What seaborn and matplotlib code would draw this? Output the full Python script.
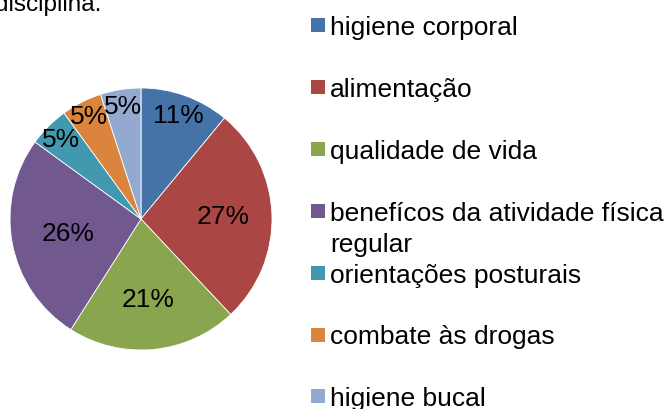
import numpy as np
import matplotlib
matplotlib.use("Agg")
import matplotlib.pyplot as plt
from matplotlib.patches import Rectangle
import seaborn as sns

categories = ["higiene corporal", "alimentação", "qualidade de vida",
              "benefícos da atividade física\nregular", "orientações posturais",
              "combate às drogas", "higiene bucal"]
values = [11, 27, 21, 26, 5, 5, 5]
colors = ["#4572A7", "#AA4643", "#89A54E", "#71588F", "#4198AF", "#DB843D", "#93A9CF"]

sns.set_style("white")
plt.rcParams["font.family"] = ["Liberation Sans", "DejaVu Sans"]
plt.rcParams["text.color"] = "black"

W, H = 670, 410
fig = plt.figure(figsize=(W / 100, H / 100), dpi=100)

# pie axes: centre (141, 220) px, radius 131 px
cx, cy, r = 141, 220, 131
ax = fig.add_axes([(cx - r) / W, (H - cy - r) / H, 2 * r / W, 2 * r / H])
pal = sns.color_palette(colors)
wedges, texts, autotexts = ax.pie(
    values, colors=pal, startangle=90, counterclock=False,
    autopct=lambda p: f"{p:.0f}%", pctdistance=0.7,
    wedgeprops=dict(edgecolor="white", linewidth=0.6),
    textprops=dict(fontsize=19, color="black"))
ax.set_xlim(-1, 1)
ax.set_ylim(-1, 1)
ax.set_aspect("equal")

label_r = [0.84, 0.63, 0.61, 0.565, 0.86, 0.88, 0.87]
for w, t, d in zip(wedges, autotexts, label_r):
    ang = np.deg2rad((w.theta1 + w.theta2) / 2)
    t.set_position((d * np.cos(ang), d * np.sin(ang)))
    t.set_ha("center")
    t.set_va("center")

# manual legend
y0 = 35.0
step = 61.9
line_h = 31.0
for i, (lab, col) in enumerate(zip(categories, pal)):
    base = y0 + i * step
    fig.patches.append(Rectangle((311 / W, (H - base + 2) / H), 14 / W, 14 / H,
                                 transform=fig.transFigure, facecolor=col,
                                 edgecolor="none"))
    for k, line in enumerate(lab.split("\n")):
        fig.text(330 / W, (H - base - k * line_h) / H, line, fontsize=19,
                 ha="left", va="baseline", color="black")

# cut-off text at the top
fig.text(-5.5 / W, (H - 10.5) / H, "disciplina.", fontsize=17.5, ha="left",
         va="baseline", color="black")

fig.savefig("out.png", dpi=100)
